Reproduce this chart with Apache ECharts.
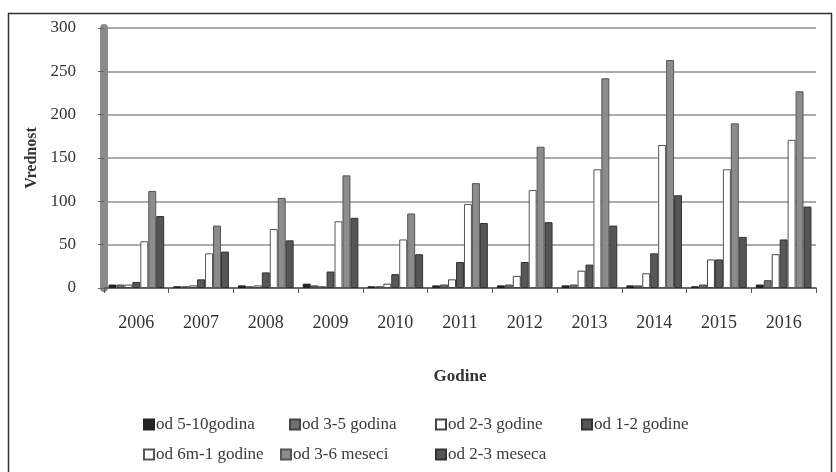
<!DOCTYPE html>
<html>
<head>
<meta charset="utf-8">
<script src="https://cdn.jsdelivr.net/npm/echarts@6/dist/echarts.min.js"></script>
<style>
html,body{margin:0;padding:0;background:#fff;}
#c{width:836px;height:472px;}
</style>
</head>
<body>
<div id="c"></div>
<script>
const years = ['2006','2007','2008','2009','2010','2011','2012','2013','2014','2015','2016'];
const seriesNames = ['od 5-10godina','od 3-5 godina','od 2-3 godine','od 1-2 godine','od 6m-1 godine','od 3-6 meseci','od 2-3 meseca'];
const od5_10godina = [4,2,3,5,2,3,3,3,3,2,4];
const od3_5godina  = [4,2,2,3,2,4,4,4,3,4,9];
const od2_3godine  = [4,3,3,2,5,10,14,20,17,33,39];
const od1_2godine  = [7,10,18,19,16,30,30,27,40,33,56];
const od6m_1godine = [54,40,68,77,56,97,113,137,165,137,171];
const od3_6meseci  = [112,72,104,130,86,121,163,242,263,190,227];
const od2_3meseca  = [83,42,55,81,39,75,76,72,107,59,94];
const yTicks = [0,50,100,150,200,250,300];

const values = [od5_10godina, od3_5godina, od2_3godine, od1_2godine, od6m_1godine, od3_6meseci, od2_3meseca];
const fills = ['#222222','#6f6f6f','#ffffff','#585858','#ffffff','#8c8c8c','#555555'];
const borders = ['#222222','#444444','#444444','#333333','#555555','#555555','#333333'];
const font = 'Liberation Serif';

// legend item placement (layout only)
const legendPos = [[143,416],[289,416],[435,416],[581,416],[143,446],[280,446],[435,446]];

const chart = echarts.init(document.getElementById('c'));
chart.setOption({
  animation: false,
  textStyle: {fontFamily: font},
  graphic: [{
    type: 'rect', left: 6, top: 11, silent: true,
    shape: {x: 0, y: 0, width: 823, height: 470},
    style: {fill: 'none', stroke: '#333', lineWidth: 1.5}
  }],
  grid: {left: 104, right: 20, top: 28, bottom: 184},
  legend: seriesNames.map((n, i) => ({
    data: [n], left: legendPos[i][0], top: legendPos[i][1],
    itemWidth: 10, itemHeight: 10, itemGap: 0, padding: 0,
    icon: 'rect',
    textStyle: {fontFamily: font, fontSize: 17, color: '#3a3a3a', padding: [0,0,0,-3]}
  })),
  xAxis: {
    type: 'category', data: years,
    name: 'Godine', nameLocation: 'middle', nameGap: 80,
    nameTextStyle: {fontFamily: font, fontSize: 17, fontWeight: 'bold', color: '#333'},
    axisLine: {lineStyle: {color: '#555', width: 1.5}},
    axisTick: {show: true, length: 5, lineStyle: {color: '#555'}},
    axisLabel: {fontFamily: font, fontSize: 18, color: '#333', margin: 26}
  },
  yAxis: {
    type: 'value', min: 0, max: 300, interval: 50,
    name: 'Vrednost', nameLocation: 'middle', nameGap: 64, nameRotate: 90,
    nameTextStyle: {fontFamily: font, fontSize: 16, fontWeight: 'bold', color: '#333'},
    axisLine: {show: true, lineStyle: {color: '#8a8a8a', width: 8}},
    axisTick: {show: true, length: 6, inside: false, lineStyle: {color: '#666'}},
    axisLabel: {fontFamily: font, fontSize: 17, color: '#333', margin: 28,
      formatter: v => yTicks.includes(v) ? String(v) : ''},
    splitLine: {lineStyle: {color: '#8f8f8f', width: 1.5}}
  },
  series: seriesNames.map((n, i) => ({
    name: n, type: 'bar', data: values[i],
    barGap: '0%', barCategoryGap: '14%',
    itemStyle: {color: fills[i], borderColor: borders[i], borderWidth: 1}
  }))
});
</script>
</body>
</html>
